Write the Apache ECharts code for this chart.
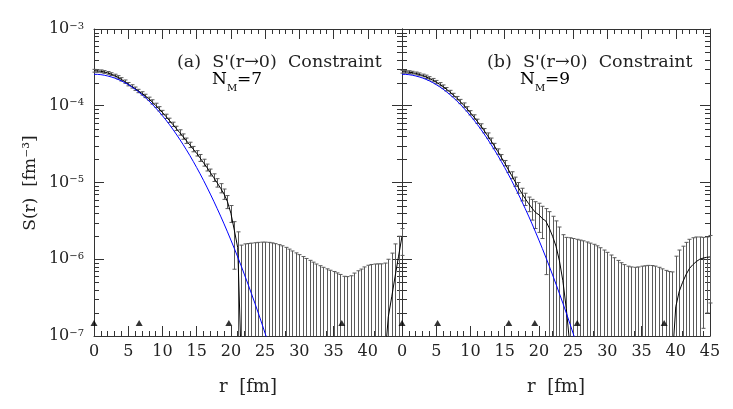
<!DOCTYPE html>
<html><head><meta charset="utf-8">
<script src="https://cdn.jsdelivr.net/npm/echarts@6/dist/echarts.min.js"></script>
<style>html,body{margin:0;padding:0;background:#fff}#c{width:733px;height:409px}</style>
</head><body><div id="c"></div>
<script>
const N = null;
// radius grid [fm]
const R = [0,0.5,1,1.5,2,2.5,3,3.5,4,4.5,5,5.5,6,6.5,7,7.5,8,8.5,9,9.5,10,10.5,11,11.5,12,12.5,13,13.5,14,14.5,15,15.5,16,16.5,17,17.5,18,18.5,19,19.5,20,20.5,21,21.5,22,22.5,23,23.5,24,24.5,25,25.5,26,26.5,27,27.5,28,28.5,29,29.5,30,30.5,31,31.5,32,32.5,33,33.5,34,34.5,35,35.5,36,36.5,37,37.5,38,38.5,39,39.5,40,40.5,41,41.5,42,42.5,43,43.5,44,44.5,45];

// Panel (a): log10 S(r) central, upper and lower error-bar ends (null lower = below axis)
const aMid = [-3.544,-3.546,-3.551,-3.560,-3.572,-3.588,-3.607,-3.630,-3.656,-3.686,-3.719,-3.748,-3.778,-3.808,-3.839,-3.872,-3.910,-3.950,-3.995,-4.040,-4.088,-4.138,-4.190,-4.242,-4.295,-4.348,-4.402,-4.456,-4.510,-4.565,-4.620,-4.680,-4.742,-4.805,-4.870,-4.937,-5.005,-5.075,-5.150,-5.250,-5.400,-5.620,-5.850,-7.300,
N,N,N,N,N,N,N,N,N,N,N,N,N,N,N,N,N,N,N,N,N,N,N,N,N,N,N,N,N,N,N,N,N,N,N,N,N,N,N,N,N,
-7.300,-6.750,-6.490,-6.220,-5.960,-5.700];
const aUp = [-3.526,-3.528,-3.533,-3.542,-3.554,-3.570,-3.589,-3.608,-3.634,-3.664,-3.697,-3.726,-3.756,-3.786,-3.817,-3.850,-3.888,-3.922,-3.967,-4.012,-4.060,-4.110,-4.162,-4.214,-4.267,-4.313,-4.367,-4.421,-4.475,-4.530,-4.585,-4.635,-4.697,-4.760,-4.825,-4.887,-4.950,-5.015,-5.085,-5.170,-5.300,-5.510,-5.643,
-5.816,-5.800,-5.795,-5.790,-5.785,-5.780,-5.777,-5.777,-5.780,-5.787,-5.797,-5.810,-5.825,-5.845,-5.868,-5.892,-5.917,-5.940,-5.965,-5.990,-6.014,-6.038,-6.062,-6.084,-6.105,-6.125,-6.143,-6.160,-6.178,-6.198,-6.222,-6.226,-6.215,-6.180,-6.150,-6.128,-6.100,-6.078,-6.068,-6.062,-6.060,-6.060,-6.050,-6.000,-5.920,-5.800,-5.700,-5.600];
const aLo = [-3.562,-3.564,-3.569,-3.578,-3.590,-3.606,-3.625,-3.652,-3.678,-3.708,-3.741,-3.770,-3.800,-3.830,-3.861,-3.894,-3.932,-3.978,-4.023,-4.068,-4.116,-4.166,-4.218,-4.270,-4.323,-4.383,-4.437,-4.491,-4.545,-4.600,-4.655,-4.725,-4.787,-4.850,-4.915,-4.987,-5.060,-5.135,-5.220,-5.340,-5.520,-6.130,
N,N,N,N,N,N,N,N,N,N,N,N,N,N,N,N,N,N,N,N,N,N,N,N,N,N,N,N,N,N,N,N,N,N,N,N,N,N,N,N,N,N,N,N,N,N,N,N,
-5.950];

// Panel (b)
const bMid = [-3.557,-3.558,-3.562,-3.569,-3.579,-3.591,-3.606,-3.623,-3.643,-3.666,-3.692,-3.720,-3.751,-3.785,-3.821,-3.860,-3.901,-3.945,-3.991,-4.040,-4.092,-4.146,-4.203,-4.263,-4.325,-4.389,-4.456,-4.525,-4.597,-4.671,-4.748,-4.826,-4.905,-4.985,-5.065,-5.140,-5.210,-5.275,-5.335,-5.390,-5.420,-5.470,-5.500,-5.590,-5.700,-5.830,-6.020,-6.280,-6.640,-7.100,
N,N,N,N,N,N,N,N,N,N,N,N,N,N,N,N,N,N,N,N,N,N,N,N,N,N,N,N,N,
-7.300,-6.620,-6.420,-6.300,-6.200,-6.120,-6.070,-6.030,-6.000,-5.985,-5.975,-5.970];
const bUp = [-3.539,-3.540,-3.544,-3.551,-3.561,-3.573,-3.588,-3.601,-3.621,-3.644,-3.670,-3.698,-3.729,-3.763,-3.799,-3.838,-3.879,-3.917,-3.963,-4.012,-4.064,-4.118,-4.175,-4.235,-4.297,-4.354,-4.421,-4.490,-4.562,-4.636,-4.713,-4.781,-4.860,-4.930,-5.000,-5.075,-5.140,-5.190,-5.220,-5.250,-5.270,-5.310,-5.340,-5.380,-5.440,-5.500,-5.580,-5.680,-5.715,-5.720,-5.730,-5.740,-5.750,-5.760,-5.775,-5.790,-5.805,-5.825,-5.850,-5.880,-5.910,-5.945,-5.980,-6.015,-6.045,-6.070,-6.090,-6.100,-6.105,-6.100,-6.090,-6.085,-6.080,-6.082,-6.090,-6.105,-6.125,-6.145,-6.160,-6.165,-5.960,-5.880,-5.830,-5.780,-5.740,-5.720,-5.710,-5.710,-5.715,-5.710,-5.690];
const bLo = [-3.575,-3.576,-3.580,-3.587,-3.597,-3.609,-3.624,-3.645,-3.665,-3.688,-3.714,-3.742,-3.773,-3.807,-3.843,-3.882,-3.923,-3.973,-4.019,-4.068,-4.120,-4.174,-4.231,-4.291,-4.353,-4.424,-4.491,-4.560,-4.632,-4.706,-4.783,-4.871,-4.950,-5.050,-5.140,-5.240,-5.300,-5.380,-5.490,-5.600,-5.650,-5.730,-6.200,
N,N,N,N,N,N,N,N,N,N,N,N,N,N,N,N,N,N,N,N,N,N,N,N,N,N,N,N,N,N,N,N,N,N,N,N,N,N,N,N,N,N,N,N,N,
-6.900,-6.700,-6.570];

// Blue reference curve (same in both panels), log10 S at r = 0 ... 25.5
const blue = [-3.590,-3.591,-3.595,-3.602,-3.612,-3.624,-3.639,-3.656,-3.676,-3.699,-3.725,-3.753,-3.784,-3.818,-3.855,-3.894,-3.936,-3.980,-4.027,-4.077,-4.130,-4.185,-4.243,-4.304,-4.368,-4.434,-4.503,-4.574,-4.648,-4.725,-4.805,-4.887,-4.972,-5.060,-5.151,-5.244,-5.340,-5.438,-5.539,-5.643,-5.750,-5.859,-5.971,-6.086,-6.204,-6.324,-6.447,-6.572,-6.700,-6.831,-6.965,-7.101];

// triangle markers along the bottom
const triA = [0, 6.6, 19.7, 36.2];
const triB = [0, 5.2, 15.6, 19.4, 25.6, 38.3];
const triY = 1.48e-7;

const yDecades = [-7,-6,-5,-4];
const yMant = [2,3,4,5,6,7,8,9];

const FONT = "'DejaVu Serif', serif";
const INK = '#222';
const AX = '#333';
const p10 = e => Math.pow(10, e);

function lineData(mid){ return R.map((r,i)=> mid[i]==null ? [r,'-'] : [r, p10(mid[i])]); }
function errData(up, lo){ return R.map((r,i)=> [r, p10(up[i]), lo[i]==null ? -1 : p10(lo[i])]); }
const minorData = [];
yDecades.forEach(e => yMant.forEach(m => minorData.push([0, m*p10(e)])));

function errItem(params, api){
  const cs = params.coordSys;
  const x = api.value(0), hi = api.value(1), lo = api.value(2);
  const pt = api.coord([x, hi]);
  const px = Math.round(pt[0]) + 0.5;
  const yBot = cs.y + cs.height;
  const yt = Math.max(cs.y, Math.min(yBot, pt[1]));
  let yb = yBot, capB = false;
  if (lo > 0) { const q = api.coord([x, lo])[1]; if (q < yBot) { yb = q; capB = true; } }
  const hw = 2;
  const st = {stroke:'#5a5a5a', lineWidth:1, fill:null};
  const ch = [
    {type:'line', shape:{x1:px,y1:yt,x2:px,y2:yb}, style:st},
    {type:'line', shape:{x1:px-hw,y1:yt,x2:px+hw,y2:yt}, style:st}
  ];
  if (capB) ch.push({type:'line', shape:{x1:px-hw,y1:yb,x2:px+hw,y2:yb}, style:st});
  return {type:'group', children:ch};
}
function minorItem(params, api){
  const cs = params.coordSys;
  const y = Math.round(api.coord([0, api.value(1)])[1]) + 0.5;
  const st = {stroke:AX, lineWidth:1};
  return {type:'group', children:[
    {type:'line', shape:{x1:cs.x, y1:y, x2:cs.x+5, y2:y}, style:st},
    {type:'line', shape:{x1:cs.x+cs.width-5, y1:y, x2:cs.x+cs.width, y2:y}, style:st}
  ]};
}

function xAxisCfg(grid, pos, showLabels, hideMax){
  return {type:'value', gridIndex:grid, position:pos, min:0, max:45, interval:5,
    axisLine:{show:true, onZero:false, lineStyle:{color:AX, width:1}},
    axisTick:{show:true, inside:true, length:10, lineStyle:{color:AX}},
    minorTick:{show:true, splitNumber:5, length:5, lineStyle:{color:AX}},
    splitLine:{show:false}, minorSplitLine:{show:false},
    axisLabel:{show:showLabels, fontFamily:FONT, fontSize:16, color:INK, margin:8,
      formatter: v => (hideMax && v===45) ? '' : String(v)}};
}
function yAxisCfg(grid, pos, showLabels){
  return {type:'log', logBase:10, gridIndex:grid, position:pos, min:1e-7, max:1e-3,
    axisLine:{show:true, onZero:false, lineStyle:{color:AX, width:1}},
    axisTick:{show:true, inside:true, length:10, lineStyle:{color:AX}},
    minorTick:{show:false}, splitLine:{show:false},
    axisLabel:{show:showLabels, margin:10, color:INK,
      formatter: v => '{b|10}{s|\u2212' + (-Math.round(Math.log10(v))) + '}',
      rich:{b:{fontFamily:FONT, fontSize:16, color:INK, lineHeight:16, verticalAlign:'bottom'},
            s:{fontFamily:FONT, fontSize:10, color:INK, lineHeight:10, verticalAlign:'top'}}}};
}

function panelSeries(xi, yi, mid, up, lo, tri){
  return [
    {type:'custom', xAxisIndex:xi, yAxisIndex:yi, renderItem:minorItem, data:minorData, z:1, silent:true},
    {type:'custom', xAxisIndex:xi, yAxisIndex:yi, renderItem:errItem, data:errData(up, lo), z:2, silent:true},
    {type:'line', xAxisIndex:xi, yAxisIndex:yi, data:lineData(mid), showSymbol:false, symbol:'none',
      connectNulls:false, clip:true, lineStyle:{color:'#000', width:1}, z:3, silent:true},
    {type:'line', xAxisIndex:xi, yAxisIndex:yi, data:R.slice(0, blue.length).map((r,i)=>[r, p10(blue[i])]),
      showSymbol:false, symbol:'none', clip:true, lineStyle:{color:'#0000ff', width:1}, z:4, silent:true},
    {type:'scatter', xAxisIndex:xi, yAxisIndex:yi, data:tri.map(t=>[t, triY]), symbol:'triangle',
      symbolSize:[7,6], itemStyle:{color:'#000'}, clip:false, z:5, silent:true}
  ];
}

const chart = echarts.init(document.getElementById('c'), null, {renderer:'canvas'});
chart.setOption({
  animation:false, backgroundColor:'#fff',
  grid:[{left:94, top:29, width:308, height:307}, {left:402, top:29, width:308, height:307}],
  xAxis:[xAxisCfg(0,'bottom',true,true), xAxisCfg(0,'top',false,false), xAxisCfg(1,'bottom',true,false), xAxisCfg(1,'top',false,false)],
  yAxis:[yAxisCfg(0,'left',true), yAxisCfg(0,'right',false), yAxisCfg(1,'left',false), yAxisCfg(1,'right',false)],
  series:[...panelSeries(0,0,aMid,aUp,aLo,triA), ...panelSeries(2,2,bMid,bUp,bLo,triB)],
  graphic:[
    {type:'text', x:31, y:183, rotation:Math.PI/2, style:{text:'S(r)  [fm\u207B\u00B3]', fontFamily:FONT, fontSize:17, fill:INK, align:'center', verticalAlign:'middle'}},
    {type:'text', x:248, y:387, style:{text:'r  [fm]', fontFamily:FONT, fontSize:18, fill:INK, align:'center', verticalAlign:'middle'}},
    {type:'text', x:556, y:387, style:{text:'r  [fm]', fontFamily:FONT, fontSize:18, fill:INK, align:'center', verticalAlign:'middle'}},
    {type:'text', x:177, y:62, style:{text:"(a)  S'(r\u21920)  Constraint", fontFamily:FONT, fontSize:17.5, fill:INK, align:'left', verticalAlign:'middle'}},
    {type:'text', x:487, y:62, style:{text:"(b)  S'(r\u21920)  Constraint", fontFamily:FONT, fontSize:17.5, fill:INK, align:'left', verticalAlign:'middle'}},
    {type:'text', x:212, y:82, style:{text:'{n|N}{m|M}{n|=7}', align:'left', verticalAlign:'middle',
      rich:{n:{fontFamily:FONT, fontSize:17, color:INK, lineHeight:22, verticalAlign:'top'}, m:{fontFamily:FONT, fontSize:10, color:INK, lineHeight:10, verticalAlign:'bottom'}}}},
    {type:'text', x:520, y:82, style:{text:'{n|N}{m|M}{n|=9}', align:'left', verticalAlign:'middle',
      rich:{n:{fontFamily:FONT, fontSize:17, color:INK, lineHeight:22, verticalAlign:'top'}, m:{fontFamily:FONT, fontSize:10, color:INK, lineHeight:10, verticalAlign:'bottom'}}}}
  ]
});
</script></body></html>
